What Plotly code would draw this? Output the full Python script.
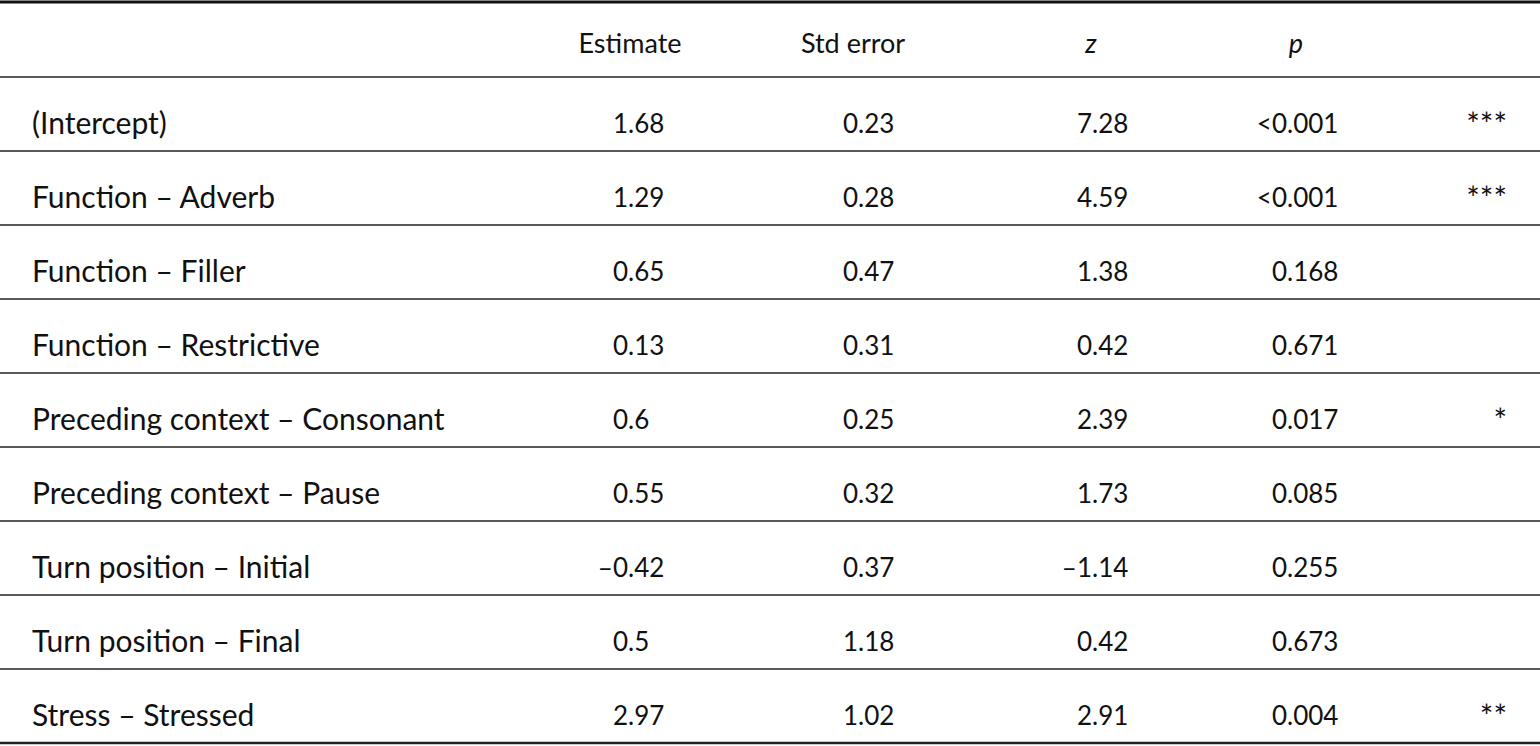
import plotly.graph_objects as go

# table content
terms = ['(Intercept)', 'Function – Adverb', 'Function – Filler', 'Function – Restrictive',
         'Preceding context – Consonant', 'Preceding context – Pause',
         'Turn position – Initial', 'Turn position – Final', 'Stress – Stressed']
estimate = ['1.68', '1.29', '0.65', '0.13', '0.6', '0.55', '–0.42', '0.5', '2.97']
std_error = ['0.23', '0.28', '0.47', '0.31', '0.25', '0.32', '0.37', '1.18', '1.02']
z_value = ['7.28', '4.59', '1.38', '0.42', '2.39', '1.73', '–1.14', '0.42', '2.91']
p_value = ['<0.001', '<0.001', '0.168', '0.671', '0.017', '0.085', '0.255', '0.673', '0.004']
signif = ['***', '***', '', '', '*', '', '', '', '**']
headers = ['Estimate', 'Std error', '<i>z</i>', '<i>p</i>']

W, H = 1540, 746
FONT = 'Lato'
INK = '#111'
header_y = 46
row_y = [126 + 74 * i for i in range(len(terms))]
rule_y = [77 + 74 * i for i in range(len(terms) + 1)]

fig = go.Figure()


def add_text(x, ys, texts, pos, size):
    fig.add_trace(go.Scatter(
        x=[x] * len(texts), y=ys, text=texts, mode='text',
        textposition=pos, textfont=dict(family=FONT, size=size, color=INK),
        hoverinfo='skip', showlegend=False,
    ))


def add_decimal_col(x_dot, values, size=26):
    # numbers aligned on the decimal point
    whole = [v.split('.')[0] for v in values]
    frac = ['.' + v.split('.')[1] if '.' in v else '' for v in values]
    add_text(x_dot, row_y, whole, 'middle left', size)
    add_text(x_dot, row_y, frac, 'middle right', size)


add_text(32, row_y, terms, 'middle right', 30)
add_decimal_col(628, estimate)
add_decimal_col(858, std_error)
add_decimal_col(1092, z_value)
add_decimal_col(1287, p_value)
add_text(1507, [y + 2 for y in row_y], signif, 'middle left', 32)

# header row
fig.add_trace(go.Scatter(
    x=[630, 853, 1091, 1296], y=[header_y] * 4, text=headers, mode='text',
    textposition='middle center', textfont=dict(family=FONT, size=27, color=INK),
    hoverinfo='skip', showlegend=False,
))

# horizontal rules
shapes = [dict(type='line', x0=0, x1=W, y0=2, y1=2, line=dict(color=INK, width=3))]
for i, y in enumerate(rule_y):
    lw = 2.5 if i == len(rule_y) - 1 else 1.6
    shapes.append(dict(type='line', x0=0, x1=W, y0=y, y1=y, line=dict(color='#222', width=lw)))

fig.update_layout(
    width=W, height=H,
    margin=dict(l=0, r=0, t=0, b=0),
    paper_bgcolor='white', plot_bgcolor='white',
    xaxis=dict(range=[0, W], visible=False, fixedrange=True),
    yaxis=dict(range=[H, 0], visible=False, fixedrange=True),
    shapes=shapes,
)

fig.write_html('out.html', config={'displayModeBar': False},
               post_script="document.body.style.margin='0';")
